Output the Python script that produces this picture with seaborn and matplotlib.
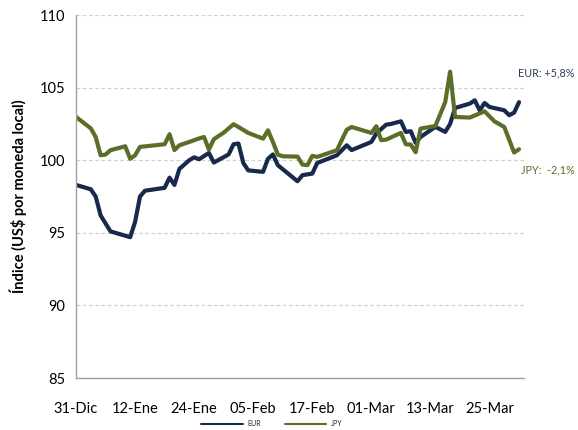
import matplotlib
matplotlib.use("Agg")
import matplotlib.pyplot as plt
import seaborn as sns
import pandas as pd

# ---------------- data ----------------
base_date = "2021-12-31"
eur_days = [0, 3, 4, 5, 7, 11, 12, 13, 14, 18, 19, 20, 21, 23, 24, 25, 27, 28, 31,
            32, 33, 34, 35, 38, 39, 40, 41, 45, 46, 48, 49, 53, 55, 56, 60, 61, 63,
            64, 66, 67, 68, 69, 70, 73, 75, 76, 77, 80, 81, 82, 83, 84, 87, 88, 89, 90]
eur_vals = [98.3, 98.0, 97.5, 96.2, 95.1, 94.7, 95.75, 97.5, 97.9, 98.1, 98.8, 98.3,
            99.4, 100.0, 100.2, 100.07, 100.5, 99.84, 100.4, 101.1, 101.15, 99.8, 99.3,
            99.2, 100.1, 100.4, 99.66, 98.55, 98.97, 99.08, 99.81, 100.34, 101.03, 100.7,
            101.26, 101.84, 102.45, 102.5, 102.68, 101.95, 102.0, 101.2, 101.6, 102.3,
            101.95, 102.5, 103.6, 103.9, 104.13, 103.44, 103.94, 103.67, 103.44, 103.1,
            103.28, 104.0]
jpy_days = [0, 3, 4, 5, 6, 7, 10, 11, 12, 13, 18, 19, 20, 21, 23, 25, 26, 27, 28, 30,
            32, 33, 35, 38, 39, 40, 41, 42, 45, 46, 47, 48, 49, 53, 55, 56, 60, 61, 62,
            63, 66, 67, 68, 69, 70, 73, 75, 76, 77, 80, 83, 85, 87, 89, 90]
jpy_vals = [102.98, 102.2, 101.6, 100.34, 100.39, 100.69, 100.96, 100.1, 100.34, 100.92,
            101.1, 101.79, 100.7, 101.03, 101.26, 101.5, 101.6, 100.74, 101.45, 101.9,
            102.48, 102.29, 101.88, 101.49, 102.06, 101.26, 100.39, 100.27, 100.25, 99.7,
            99.66, 100.3, 100.23, 100.69, 102.1, 102.29, 101.88, 102.34, 101.38, 101.42,
            101.88, 101.1, 101.08, 100.55, 102.18, 102.36, 104.0, 106.1, 102.98, 102.94,
            103.37, 102.68, 102.29, 100.53, 100.76]
series_names = ["EUR", "JPY"]
tick_dates = ["2021-12-31", "2022-01-12", "2022-01-24", "2022-02-05", "2022-02-17",
              "2022-03-01", "2022-03-13", "2022-03-25"]
tick_labels = ["31-Dic", "12-Ene", "24-Ene", "05-Feb", "17-Feb", "01-Mar", "13-Mar", "25-Mar"]
y_ticks = [85, 90, 95, 100, 105, 110]
annot_texts = ["EUR: +5,8%", "JPY:  -2,1%"]
ylabel = "Índice (US$ por moneda local)"

# ---------------- build table ----------------
base = pd.Timestamp(base_date)
df = pd.concat([
    pd.DataFrame({"fecha": base + pd.to_timedelta(eur_days, unit="D"),
                  "valor": eur_vals, "serie": series_names[0]}),
    pd.DataFrame({"fecha": base + pd.to_timedelta(jpy_days, unit="D"),
                  "valor": jpy_vals, "serie": series_names[1]}),
])

navy = "#172a4b"
green = "#5a6e29"
palette = {"EUR": navy, "JPY": green}

sns.set_theme(style="white")
plt.rcParams["font.family"] = ["Lato", "DejaVu Sans"]

fig = plt.figure(figsize=(5.78, 4.30), dpi=100)
ax = fig.add_axes([0.1315, 0.1209, 0.775, 0.8441])

sns.lineplot(data=df, x="fecha", y="valor", hue="serie", palette=palette,
             linewidth=3.0, ax=ax, legend=False, estimator=None, sort=False)

ax.set_xlim(pd.Timestamp("2021-12-31"), pd.Timestamp("2022-04-01"))
ax.set_ylim(85, 110)
ax.set_yticks(y_ticks)
ax.set_xticks([pd.Timestamp(d) for d in tick_dates])
ax.set_xticklabels(tick_labels)
ax.set_xlabel("")
ax.set_ylabel(ylabel, fontsize=10.5, fontweight="bold", color="black", labelpad=9)

ax.grid(axis="y", color="#d0d0d0", linestyle=(0, (3, 2)), linewidth=0.9)
ax.grid(axis="x", visible=False)
for s in ["top", "right"]:
    ax.spines[s].set_visible(False)
for s in ["left", "bottom"]:
    ax.spines[s].set_color("#a0a0a0")
    ax.spines[s].set_linewidth(1.0)
ax.tick_params(axis="both", which="both", direction="out", length=4, width=1,
               color="#a0a0a0", labelsize=10.5, labelcolor="black")
ax.tick_params(axis="x", pad=13)
ax.tick_params(axis="y", pad=4)

fig.text(575 / 578, 1 - 73 / 430, annot_texts[0], color="#2e3d5a", fontsize=7.8,
         ha="right", va="center")
fig.text(575 / 578, 1 - 170 / 430, annot_texts[1], color=green, fontsize=7.8,
         ha="right", va="center")

handles = [plt.Line2D([], [], color=palette[n], linewidth=1.5) for n in series_names]
fig.legend(handles, series_names, loc="center", bbox_to_anchor=(0.47, 1 - 424 / 430),
           ncol=2, frameon=False, fontsize=5, handlelength=6, columnspacing=3.5,
           handletextpad=0.6)

fig.savefig("out.png", dpi=100)
